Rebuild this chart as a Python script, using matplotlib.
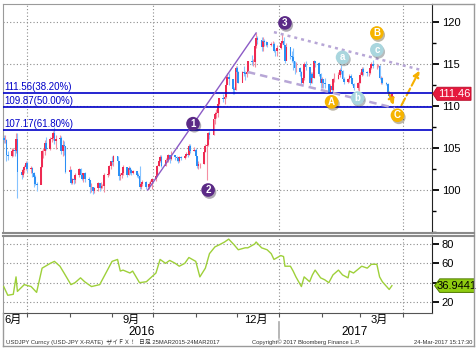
import numpy as np
import pandas as pd
import matplotlib
matplotlib.use('Agg')
import matplotlib.pyplot as plt
import matplotlib.dates as mdates
import matplotlib.transforms as mtrans
import matplotlib.patheffects as pe
from matplotlib.patches import Polygon
from matplotlib.lines import Line2D

plt.rcParams['font.family'] = ['Liberation Sans', 'Noto Sans CJK JP', 'DejaVu Sans']

# daily USD/JPY candles, 2016-06-14 .. 2017-03-24 (one row per week)
first_open = 106.2
close = [
    106.0, 106.0, 104.2, 104.1,
    104.6, 104.8, 104.6, 106.1, 102.2,
    101.8, 102.4, 102.7, 103.2, 102.5,
    102.6, 102.0, 101.5, 100.7, 100.6,
    102.7, 104.7, 104.7, 105.6, 104.9,
    106.1, 106.2, 106.8, 105.8, 106.1,
    106.2, 104.7, 105.3, 105.2, 102.1,
    102.4, 100.8, 101.3, 101.2, 101.8,
    102.5, 101.8, 101.3, 102.0, 101.3,
    101.2, 100.3, 100.3, 99.9, 100.2,
    100.8, 100.2, 100.5, 100.5, 101.8,
    101.9, 102.9, 103.4, 103.3, 104.0,
    103.4, 101.7, 101.8, 102.0, 102.7,
    101.8, 102.6, 102.4, 102.0, 102.3,
    101.8, 101.7, 100.3, 100.7, 101.0,
    100.4, 100.4, 100.7, 101.0, 101.3,
    101.7, 102.9, 103.5, 103.9, 102.9,
    103.6, 103.6, 104.2, 103.7, 104.2,
    103.9, 103.8, 103.4, 103.9, 103.8,
    104.1, 104.3, 104.2, 105.2, 104.7,
    104.8, 104.1, 102.9, 103.1, 103.1,
    104.5, 105.2, 105.3, 106.8, 106.6,
    108.4, 109.1, 109.2, 110.2, 110.9,
    110.8, 111.1, 112.5, 113.4, 113.2,
    112.0, 111.9, 114.5, 114.0, 112.8,
    114.0, 113.9, 113.8, 114.0, 115.4,
    115.2, 115.3, 117.2, 118.1, 117.9,
    117.0, 117.8, 117.6, 117.6, 117.3,
    117.4, 117.4, 116.6, 116.5, 116.9,
    117.5, 117.7, 117.3, 115.4, 117.0,
    115.9, 115.8, 115.4, 114.5, 114.5,
    114.1, 112.7, 113.3, 115.0, 114.6,
    112.8, 113.8, 113.3, 115.4, 115.1,
    113.8, 112.8, 113.2, 112.8, 112.6,
    111.7, 112.4, 111.9, 113.2, 113.2,
    113.7, 114.3, 114.2, 113.2, 112.9,
    113.2, 113.6, 113.3, 112.6, 112.1,
    112.7, 112.8, 113.7, 114.4, 114.0,
    113.9, 113.9, 114.5, 115.0, 114.8,
    114.8, 114.8, 113.3, 113.3, 112.7,
    112.6, 111.7, 111.2, 111.0, 111.46,
]
high = [
    106.5, 106.6, 106.1, 104.6,
    105.0, 105.0, 105.0, 106.8, 106.8,
    102.5, 102.6, 103.0, 103.5, 103.4,
    102.8, 102.7, 102.1, 101.8, 101.0,
    103.0, 104.8, 105.0, 106.0, 106.3,
    106.3, 106.5, 107.0, 107.5, 106.5,
    106.6, 106.4, 106.0, 105.8, 105.0,
    102.8, 102.5, 101.4, 101.6, 102.0,
    102.6, 102.6, 101.9, 102.0, 102.2,
    101.5, 101.2, 100.8, 100.4, 100.4,
    100.9, 100.8, 100.9, 100.7, 102.0,
    102.1, 103.0, 103.5, 104.0, 104.2,
    104.0, 103.5, 102.0, 102.2, 103.0,
    102.6, 102.9, 102.7, 102.5, 102.4,
    102.3, 102.0, 102.8, 100.9, 101.2,
    101.1, 100.7, 101.0, 101.2, 101.4,
    101.8, 103.0, 103.6, 104.2, 104.2,
    103.8, 104.0, 104.3, 104.2, 104.6,
    104.2, 104.1, 103.9, 104.0, 104.1,
    104.2, 104.5, 104.5, 105.5, 105.5,
    105.1, 105.0, 104.1, 103.4, 103.2,
    104.6, 105.5, 105.5, 106.9, 107.0,
    108.5, 109.3, 109.6, 110.4, 111.0,
    111.4, 111.4, 112.7, 113.9, 113.9,
    113.0, 112.3, 114.8, 114.8, 114.2,
    114.2, 114.8, 114.2, 114.5, 115.4,
    116.1, 115.6, 117.4, 118.66, 118.3,
    118.2, 118.2, 118.0, 117.8, 117.6,
    117.6, 117.8, 117.6, 116.8, 117.3,
    117.8, 118.6, 118.2, 117.3, 117.5,
    117.0, 116.5, 116.9, 115.4, 115.3,
    114.6, 114.2, 113.6, 115.3, 115.4,
    114.4, 114.0, 114.0, 115.5, 115.4,
    115.2, 113.9, 113.4, 113.2, 113.3,
    112.6, 112.6, 112.4, 113.3, 113.9,
    114.1, 114.5, 114.9, 114.3, 113.4,
    113.3, 113.8, 113.8, 113.3, 112.7,
    112.9, 113.0, 114.0, 114.6, 114.7,
    114.2, 114.1, 114.6, 115.2, 115.5,
    115.0, 115.0, 114.9, 113.6, 113.4,
    112.9, 112.8, 111.8, 111.6, 111.6,
]
low = [
    105.6, 105.6, 103.5, 103.6,
    103.9, 104.0, 104.1, 104.4, 99.0,
    101.3, 101.5, 102.0, 102.4, 102.2,
    102.0, 101.5, 100.4, 100.6, 99.9,
    100.7, 102.7, 103.8, 104.2, 104.8,
    104.8, 105.7, 106.0, 105.5, 104.9,
    105.6, 104.3, 104.0, 104.2, 102.0,
    101.8, 100.7, 100.7, 100.7, 100.8,
    101.6, 101.5, 101.2, 101.0, 101.0,
    100.6, 99.6, 99.8, 99.5, 99.6,
    99.9, 99.9, 100.1, 100.2, 99.8,
    101.6, 101.8, 102.5, 103.0, 102.9,
    103.1, 101.2, 101.2, 101.4, 101.8,
    101.5, 101.8, 101.9, 101.8, 101.9,
    101.6, 101.4, 100.1, 100.1, 100.5,
    100.1, 100.1, 100.1, 100.5, 100.1,
    101.1, 101.6, 102.8, 103.3, 102.7,
    102.9, 103.3, 103.3, 103.2, 103.6,
    103.6, 103.5, 103.2, 103.3, 103.6,
    103.7, 103.9, 103.9, 104.2, 104.4,
    104.6, 103.9, 102.6, 102.5, 102.6,
    103.1, 104.5, 101.2, 105.2, 106.1,
    106.6, 107.9, 108.6, 108.7, 110.1,
    110.5, 110.3, 110.9, 112.6, 112.5,
    111.4, 111.4, 111.9, 113.9, 112.8,
    112.9, 113.6, 113.1, 113.4, 113.9,
    114.9, 114.8, 114.7, 116.9, 117.4,
    116.5, 116.6, 117.1, 117.2, 117.0,
    117.1, 117.1, 116.4, 116.0, 116.0,
    116.8, 117.4, 116.8, 115.1, 115.5,
    115.6, 115.3, 114.3, 113.8, 114.0,
    113.6, 112.6, 112.6, 113.1, 114.3,
    112.5, 112.8, 112.8, 113.3, 114.6,
    113.6, 112.1, 112.1, 112.1, 112.1,
    111.6, 111.6, 111.6, 111.8, 112.9,
    113.2, 113.5, 113.8, 113.1, 112.6,
    112.8, 112.9, 113.0, 112.5, 111.9,
    111.9, 111.8, 112.8, 113.6, 113.7,
    113.6, 113.6, 113.8, 114.4, 114.5,
    114.4, 114.6, 113.2, 112.6, 112.6,
    112.5, 111.6, 110.9, 110.7, 110.6,
]

# oscillator in the lower panel
rsi_dates = ['2016-06-14', '2016-06-17', '2016-06-21', '2016-06-23', '2016-06-24', '2016-06-29',
             '2016-07-04', '2016-07-08', '2016-07-12', '2016-07-18', '2016-07-21', '2016-07-25',
             '2016-07-28', '2016-08-02', '2016-08-05', '2016-08-09', '2016-08-12', '2016-08-17',
             '2016-08-23', '2016-08-26', '2016-09-01', '2016-09-05', '2016-09-07', '2016-09-09',
             '2016-09-14', '2016-09-16', '2016-09-21', '2016-09-26', '2016-10-03', '2016-10-06',
             '2016-10-10', '2016-10-13', '2016-10-17', '2016-10-20', '2016-10-24', '2016-10-27',
             '2016-11-01', '2016-11-04', '2016-11-08', '2016-11-11', '2016-11-15', '2016-11-18',
             '2016-11-22', '2016-11-25', '2016-11-29', '2016-12-02', '2016-12-07', '2016-12-09',
             '2016-12-14', '2016-12-15', '2016-12-19', '2016-12-23', '2016-12-26', '2016-12-28',
             '2017-01-02', '2017-01-04', '2017-01-05', '2017-01-09', '2017-01-11', '2017-01-13',
             '2017-01-17', '2017-01-19', '2017-01-23', '2017-01-25', '2017-01-27', '2017-01-31',
             '2017-02-03', '2017-02-06', '2017-02-09', '2017-02-13', '2017-02-16', '2017-02-20',
             '2017-02-21', '2017-02-24', '2017-03-02', '2017-03-06', '2017-03-09', '2017-03-13',
             '2017-03-15', '2017-03-17', '2017-03-22', '2017-03-24']
rsi_vals = [36, 27, 28, 46, 31, 38, 36, 30, 55, 60, 62, 57, 50, 38, 40, 45, 41, 36, 38, 46,
            62, 64, 52, 53, 50, 52, 40, 41, 50, 64, 60, 63, 60, 57, 60, 66, 62, 46, 55, 70,
            77, 79, 82, 85, 79, 74, 76, 76, 80, 82, 76, 74, 70, 64, 68, 67, 57, 57, 52, 46,
            36, 46, 41, 48, 53, 45, 43, 40, 48, 53, 48, 45, 52, 50, 57, 55, 59, 59, 46, 41,
            33, 36.94]

fib_levels = [111.56, 109.87, 107.17]
fib_pcts = [38.20, 50.00, 61.80]
last_price = 111.46
last_rsi = 36.9441

month_labels = ['6月', '9月', '12月', '3月']
month_label_dates = ['2016-06-15', '2016-09-15', '2016-12-15', '2017-03-15']
year_labels = ['2016', '2017']

days = pd.bdate_range('2016-06-14', '2017-03-24')
x = mdates.date2num(days)
close = np.array(close)
high = np.array(high)
low = np.array(low)
opens = np.r_[first_open, close[:-1]]


def d(s):
    return mdates.datestr2num(s)


W, H = 477, 352


def box(x0, y0, x1, y1):
    return [x0 / W, 1 - y1 / H, (x1 - x0) / W, (y1 - y0) / H]


def fline(x0, y0, x1, y1, **kw):
    # frame line in pixel coords (top-left origin)
    fig.add_artist(Line2D([x0 / W, x1 / W], [1 - y0 / H, 1 - y1 / H], **kw))


fig = plt.figure(figsize=(W / 100, H / 100), dpi=100)
ax = fig.add_axes(box(3, 4, 432, 233))
ax2 = fig.add_axes(box(3, 236, 432, 313))

xlim = (d('2016-06-13') + 0.5, d('2017-04-22') + 0.2)
quarters = [d(s) for s in ['2016-07-01', '2016-10-01', '2017-01-01', '2017-04-01']]
months = [d(s) for s in pd.date_range('2016-07-01', '2017-04-01', freq='MS').strftime('%Y-%m-%d')]
grid_kw = dict(color='#8c8c8c', lw=0.8, linestyle=(0, (1, 2)), zorder=0)

# ---- main price panel ----
up = close >= opens
ax.vlines(x[up], low[up], high[up], color='#f58ea2', lw=0.8, zorder=2)
ax.vlines(x[~up], low[~up], high[~up], color='#86c3ff', lw=0.8, zorder=2)
ax.bar(x[up], (close - opens)[up], bottom=opens[up], width=1.3, color='#ee2a52', lw=0, zorder=3)
ax.bar(x[~up], (close - opens)[~up], bottom=opens[~up], width=1.3, color='#2b8ff5', lw=0, zorder=3)

ytrans = mtrans.blended_transform_factory(ax.transAxes, ax.transData)
for v, p in zip(fib_levels, fib_pcts):
    ax.axhline(v, color='#0000c8', lw=1.2, zorder=4)
    ax.text(0.003, v + 0.12, f'{v:.2f}({p:.2f}%)', transform=ytrans, color='#0000c8',
            fontsize=7, va='bottom', ha='left')

# wave lines
ax.plot([d('2016-09-27'), d('2016-12-15')], [100.0, 118.7], color='#8c5bc6', lw=1, zorder=5)
ax.plot([d('2016-12-28'), d('2017-04-14')], [118.8, 114.3], color='#b7a6d6', lw=1.8,
        linestyle=(0, (1.2, 1.6)), zorder=5)
ax.plot([d('2016-12-09'), d('2017-03-26')], [114.05, 109.76], color='#b7a6d6', lw=1.8,
        linestyle=(0, (3, 2)), zorder=5)

arrow_kw = dict(arrowstyle='-|>', color='#f5b000', lw=1.5, linestyle='--', mutation_scale=9)
ax.annotate('', xy=(d('2017-03-26'), 109.8), xytext=(d('2017-03-21'), 111.9), arrowprops=arrow_kw)
ax.annotate('', xy=(d('2017-04-14'), 114.5), xytext=(d('2017-03-30'), 109.8), arrowprops=arrow_kw)

marks = [('1', '2016-10-30', 107.9, '#5b2a86'), ('2', '2016-11-10', 100.0, '#5b2a86'),
         ('3', '2017-01-05', 119.9, '#5b2a86'), ('A', '2017-02-08', 110.5, '#f6b400'),
         ('B', '2017-03-13', 118.7, '#f6b400'), ('C', '2017-03-28', 108.9, '#f6b400'),
         ('a', '2017-02-16', 115.8, '#a9d6de'), ('b', '2017-02-27', 110.95, '#a9d6de'),
         ('c', '2017-03-13', 116.7, '#a9d6de')]
for lab, dt, yv, col in marks:
    ax.plot([d(dt)], [yv], 'o', ms=9.8, color=col, mec='none', zorder=8, clip_on=False,
            path_effects=[pe.SimplePatchShadow(offset=(1, -1.5), alpha=0.35), pe.Normal()])
    ax.text(d(dt), yv, lab, color='white', fontsize=7, fontweight='bold',
            ha='center', va='center', zorder=9)

for q in quarters:
    ax.axvline(q, **grid_kw)
for v in [100, 105, 110, 115, 120]:
    ax.axhline(v, **grid_kw)

ax.set_xlim(xlim)
ax.set_ylim(94.88, 122.15)
ax.yaxis.tick_right()
ax.set_yticks([100, 105, 110, 115, 120])
ax.set_yticks(np.arange(95, 122, 2.5), minor=True)
ax.tick_params(axis='y', which='major', direction='out', length=5, width=1.3, labelsize=8, pad=2)
ax.tick_params(axis='y', which='minor', direction='out', length=3, width=1)
ax.tick_params(axis='x', which='both', bottom=False, labelbottom=False)

tag = Polygon([(1.002, last_price), (1.012, last_price + 0.78), (1.091, last_price + 0.78),
               (1.091, last_price - 0.78), (1.012, last_price - 0.78)],
              transform=ytrans, closed=True, fc='#e5193d', ec='#b80a28', lw=0.6,
              clip_on=False, zorder=10)
ax.add_patch(tag)
ax.text(1.052, last_price, f'{last_price:.2f}', transform=ytrans, color='white', fontsize=8,
        ha='center', va='center', zorder=11, clip_on=False)

# ---- lower oscillator panel ----
ax2.plot([d(s) for s in rsi_dates], rsi_vals, color='#9ed03a', lw=1, zorder=3)
for q in quarters:
    ax2.axvline(q, **grid_kw)
for v in [20, 40, 60, 80]:
    ax2.axhline(v, **grid_kw)
ax2.set_xlim(xlim)
ax2.set_ylim(8.7, 88.2)
ax2.yaxis.tick_right()
ax2.set_yticks([20, 40, 60, 80])
ax2.set_yticklabels(['20', '', '60', '80'])  # the 40 label sits under the value tag
ax2.tick_params(axis='y', direction='out', length=5, width=1.3, labelsize=8, pad=2)
ax2.set_xticks(months)
ax2.tick_params(axis='x', direction='out', length=3, width=0.8, labelbottom=False, color='#555555')

ytrans2 = mtrans.blended_transform_factory(ax2.transAxes, ax2.transData)
tag2 = Polygon([(1.006, last_rsi), (1.018, last_rsi + 7.0), (1.099, last_rsi + 7.0),
                (1.099, last_rsi - 7.0), (1.018, last_rsi - 7.0)],
               transform=ytrans2, closed=True, fc='#8fcc10', ec='#4f7a00', lw=0.7,
               clip_on=False, zorder=10)
ax2.add_patch(tag2)
ax2.text(1.058, last_rsi, f'{last_rsi:.4f}', transform=ytrans2, color='black', fontsize=8,
         ha='center', va='center', zorder=11, clip_on=False)

xtrans2 = mtrans.blended_transform_factory(ax2.transData, ax2.transAxes)
for lab, dt in zip(month_labels, month_label_dates):
    if lab == '6月':
        ax2.text(0.003, -0.09, lab, transform=ax2.transAxes, fontsize=8, ha='left', va='center')
    else:
        ax2.text(d(dt), -0.09, lab, transform=xtrans2, fontsize=8, ha='center', va='center')
ax2.text(0.322, -0.245, year_labels[0], transform=ax2.transAxes, fontsize=8.5, ha='center', va='center')
ax2.text(0.82, -0.245, year_labels[1], transform=ax2.transAxes, fontsize=8.5, ha='center', va='center')
ax2.plot([quarters[2]] * 2, [-0.12, -0.33], transform=xtrans2, color='#aaaaaa', lw=1.2, clip_on=False)

# spines / frame
for a in (ax, ax2):
    a.spines['left'].set_color('#9a9a9a')
    a.spines['right'].set_color('#222222')
    a.set_facecolor('white')
ax.spines['top'].set_color('#9a9a9a')
ax.spines['bottom'].set_color('#8a8a8a')
ax.spines['bottom'].set_linewidth(1.5)
ax2.spines['top'].set_color('#8a8a8a')
ax2.spines['top'].set_linewidth(1.5)
ax2.spines['bottom'].set_color('#555555')

fline(3, 313, 3, 346, color='#9a9a9a', lw=1)
fline(3, 346, 474, 346, color='#9a9a9a', lw=1)
fline(432, 4, 474, 4, color='#9a9a9a', lw=1)
fline(474, 4, 474, 346, color='#9a9a9a', lw=1)
fline(432, 233, 474, 233, color='#8a8a8a', lw=1.5)
fline(432, 236, 474, 236, color='#8a8a8a', lw=1.5)

fig.text(6 / W, 1 - 342 / H, 'USDJPY Curncy (USD-JPY X-RATE)  ザイＦＸ！  日足 25MAR2015-24MAR2017',
         fontsize=4.2, color='#333333', va='center')
fig.text(252 / W, 1 - 342 / H, 'Copyright© 2017 Bloomberg Finance L.P.',
         fontsize=4.2, color='#333333', va='center')
fig.text(472 / W, 1 - 342 / H, '24-Mar-2017 15:17:30', fontsize=4.2, color='#333333',
         va='center', ha='right')

fig.savefig('out.png', dpi=100)
